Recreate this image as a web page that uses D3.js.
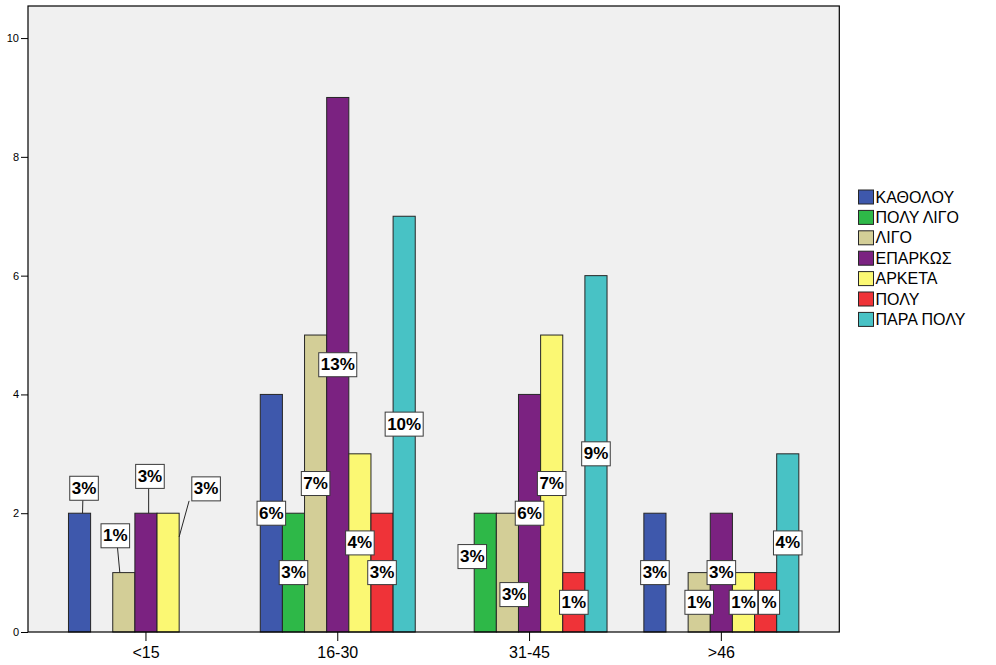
<!DOCTYPE html>
<html>
<head>
<meta charset="utf-8">
<script src="https://cdn.jsdelivr.net/npm/d3@7"></script>
<style>
  html, body { margin: 0; padding: 0; background: #ffffff; }
  svg { display: block; }
</style>
</head>
<body>
<svg id="chart" width="996" height="665"></svg>
<script>
// ---- data ----
const categories = ["<15", "16-30", "31-45", ">46"];
const seriesNames = ["ΚΑΘΟΛΟΥ", "ΠΟΛΥ ΛΙΓΟ", "ΛΙΓΟ", "ΕΠΑΡΚΩΣ", "ΑΡΚΕΤΑ", "ΠΟΛΥ", "ΠΑΡΑ ΠΟΛΥ"];
const katholou  = [2, 4, 0, 2];
const polyLigo  = [0, 2, 2, 0];
const ligo      = [1, 5, 2, 1];
const eparkos   = [2, 9, 4, 2];
const arketa    = [2, 3, 5, 1];
const poly      = [0, 2, 1, 1];
const paraPoly  = [0, 7, 6, 3];
// label texts as shown in the picture (the last ΠΟΛΥ label is partly hidden, only "%" shows)
const katholouPct = ["3%", "6%", null, "3%"];
const polyLigoPct = [null, "3%", "3%", null];
const ligoPct     = ["1%", "7%", "3%", "1%"];
const eparkosPct  = ["3%", "13%", "6%", "3%"];
const arketaPct   = ["3%", "4%", "7%", "1%"];
const polyPct     = [null, "3%", "1%", "%"];
const paraPolyPct = [null, "10%", "9%", "4%"];
const yTicks = [0, 2, 4, 6, 8, 10];

const seriesValues = [katholou, polyLigo, ligo, eparkos, arketa, poly, paraPoly];
const seriesPct = [katholouPct, polyLigoPct, ligoPct, eparkosPct, arketaPct, polyPct, paraPolyPct];

// ---- styles / layout ----
const colors = ["#3E58AC", "#2EB848", "#D3CE97", "#7B2281", "#FBF873", "#EF3338", "#48C2C5"];
// label placement overrides: s = series, c = category, dx (px from bar centre), at (value units)
const labelLayout = [
  { s: 0, c: 0, dx: 4.5,  at: 2.42, from: [-1.2, 12], to: [3, 2] },
  { s: 2, c: 0, dx: -8.5, at: 1.62, from: [2, 10],    to: [-4, 1] },
  { s: 3, c: 0, dx: 4,    at: 2.62, from: [-1.3, 12], to: [2.7, 2] },
  { s: 4, c: 0, dx: 38,   at: 2.41, from: [-17, 12],  to: [11, 1.6] },
  { s: 1, c: 2, dx: -13,  at: 1.27 },
  { s: 2, c: 2, dx: 6.8,  at: 0.63 },
  { s: 5, c: 3, dx: 3.4,  at: 0.5, pad: 6 }
];

const svg = d3.select("#chart");
const plot = { left: 28, right: 839.3, top: 6, bottom: 632 };

const x0 = d3.scaleBand().domain(categories)
  .range([plot.left, plot.right]).paddingInner(0.192).paddingOuter(0.211);
const x1 = d3.scaleBand().domain(d3.range(seriesNames.length))
  .range([0, x0.bandwidth()]).padding(0);
const y = d3.scaleLinear().domain([0, 10.54]).range([plot.bottom, plot.top]);

// background
svg.append("rect")
  .attr("x", plot.left).attr("y", plot.top)
  .attr("width", plot.right - plot.left).attr("height", plot.bottom - plot.top)
  .attr("fill", "#F0F0F0");

// bars
const barData = [];
seriesValues.forEach((vals, s) => vals.forEach((v, c) => {
  if (v > 0) barData.push({ s, c, v });
}));
svg.append("g").selectAll("rect").data(barData).join("rect")
  .attr("x", d => x0(categories[d.c]) + x1(d.s))
  .attr("y", d => y(d.v))
  .attr("width", x1.bandwidth())
  .attr("height", d => y(0) - y(d.v))
  .attr("fill", d => colors[d.s])
  .attr("stroke", "#262626")
  .attr("stroke-width", 1);

// frame
svg.append("rect")
  .attr("x", plot.left).attr("y", plot.top)
  .attr("width", plot.right - plot.left).attr("height", plot.bottom - plot.top)
  .attr("fill", "none").attr("stroke", "#000").attr("stroke-width", 1.2);

// y axis
const yAxis = svg.append("g").attr("transform", `translate(${plot.left},0)`)
  .call(d3.axisLeft(y).tickValues(yTicks).tickSize(7).tickPadding(2).tickFormat(d3.format("d")));
yAxis.select(".domain").remove();
yAxis.selectAll("line").attr("stroke", "#000");
yAxis.selectAll("text").attr("font-family", "'Liberation Sans', Arial, sans-serif")
  .attr("font-size", 11).attr("fill", "#000");

// x axis
const xAxis = svg.append("g").attr("transform", `translate(0,${plot.bottom})`)
  .call(d3.axisBottom(x0).tickSize(9).tickPadding(6));
xAxis.select(".domain").remove();
xAxis.selectAll("line").attr("stroke", "#000");
xAxis.selectAll("text").attr("font-family", "'Liberation Sans', Arial, sans-serif")
  .attr("font-size", 16).attr("fill", "#000");

// labels
const labels = [];
seriesPct.forEach((arr, s) => arr.forEach((t, c) => {
  if (!t) return;
  const v = seriesValues[s][c];
  const cx = x0(categories[c]) + x1(s) + x1.bandwidth() / 2;
  const ov = labelLayout.find(o => o.s === s && o.c === c);
  const lx = cx + (ov ? ov.dx : 0);
  const ly = y(ov ? ov.at : v / 2);
  labels.push({ s, c, t, cx, lx, ly, ov });
}));
labels.sort((a, b) => b.s - a.s);
const lg = svg.append("g");
labels.forEach(d => {
  const g = lg.append("g");
  if (d.ov && d.ov.to) {
    g.append("line")
      .attr("x1", d.lx + d.ov.from[0]).attr("y1", d.ly + d.ov.from[1])
      .attr("x2", d.cx + d.ov.to[0]).attr("y2", y(d.ov.to[1]))
      .attr("stroke", "#262626").attr("stroke-width", 1);
  }
  const txt = g.append("text")
    .attr("x", d.lx).attr("y", d.ly)
    .attr("text-anchor", "middle").attr("dominant-baseline", "central")
    .attr("font-family", "'Liberation Sans', Arial, sans-serif")
    .attr("font-weight", "bold").attr("font-size", 17).attr("fill", "#000")
    .text(d.t);
  const w = txt.node().getComputedTextLength() + (d.ov && d.ov.pad ? d.ov.pad : 4);
  g.insert("rect", "text")
    .attr("x", d.lx - w / 2).attr("y", d.ly - 12)
    .attr("width", w).attr("height", 24)
    .attr("fill", "#fff").attr("stroke", "#3a3a3a").attr("stroke-width", 1);
});

// legend
const legend = svg.append("g").attr("transform", "translate(858.5,190)");
seriesNames.forEach((name, i) => {
  const row = legend.append("g").attr("transform", `translate(0,${i * 20.4})`);
  row.append("rect").attr("width", 15).attr("height", 14)
    .attr("fill", colors[i]).attr("stroke", "#262626").attr("stroke-width", 1);
  row.append("text").attr("x", 17).attr("y", 7)
    .attr("dominant-baseline", "central")
    .attr("font-family", "'Liberation Sans', Arial, sans-serif")
    .attr("font-size", 16).attr("fill", "#000")
    .text(name);
});
</script>
</body>
</html>
